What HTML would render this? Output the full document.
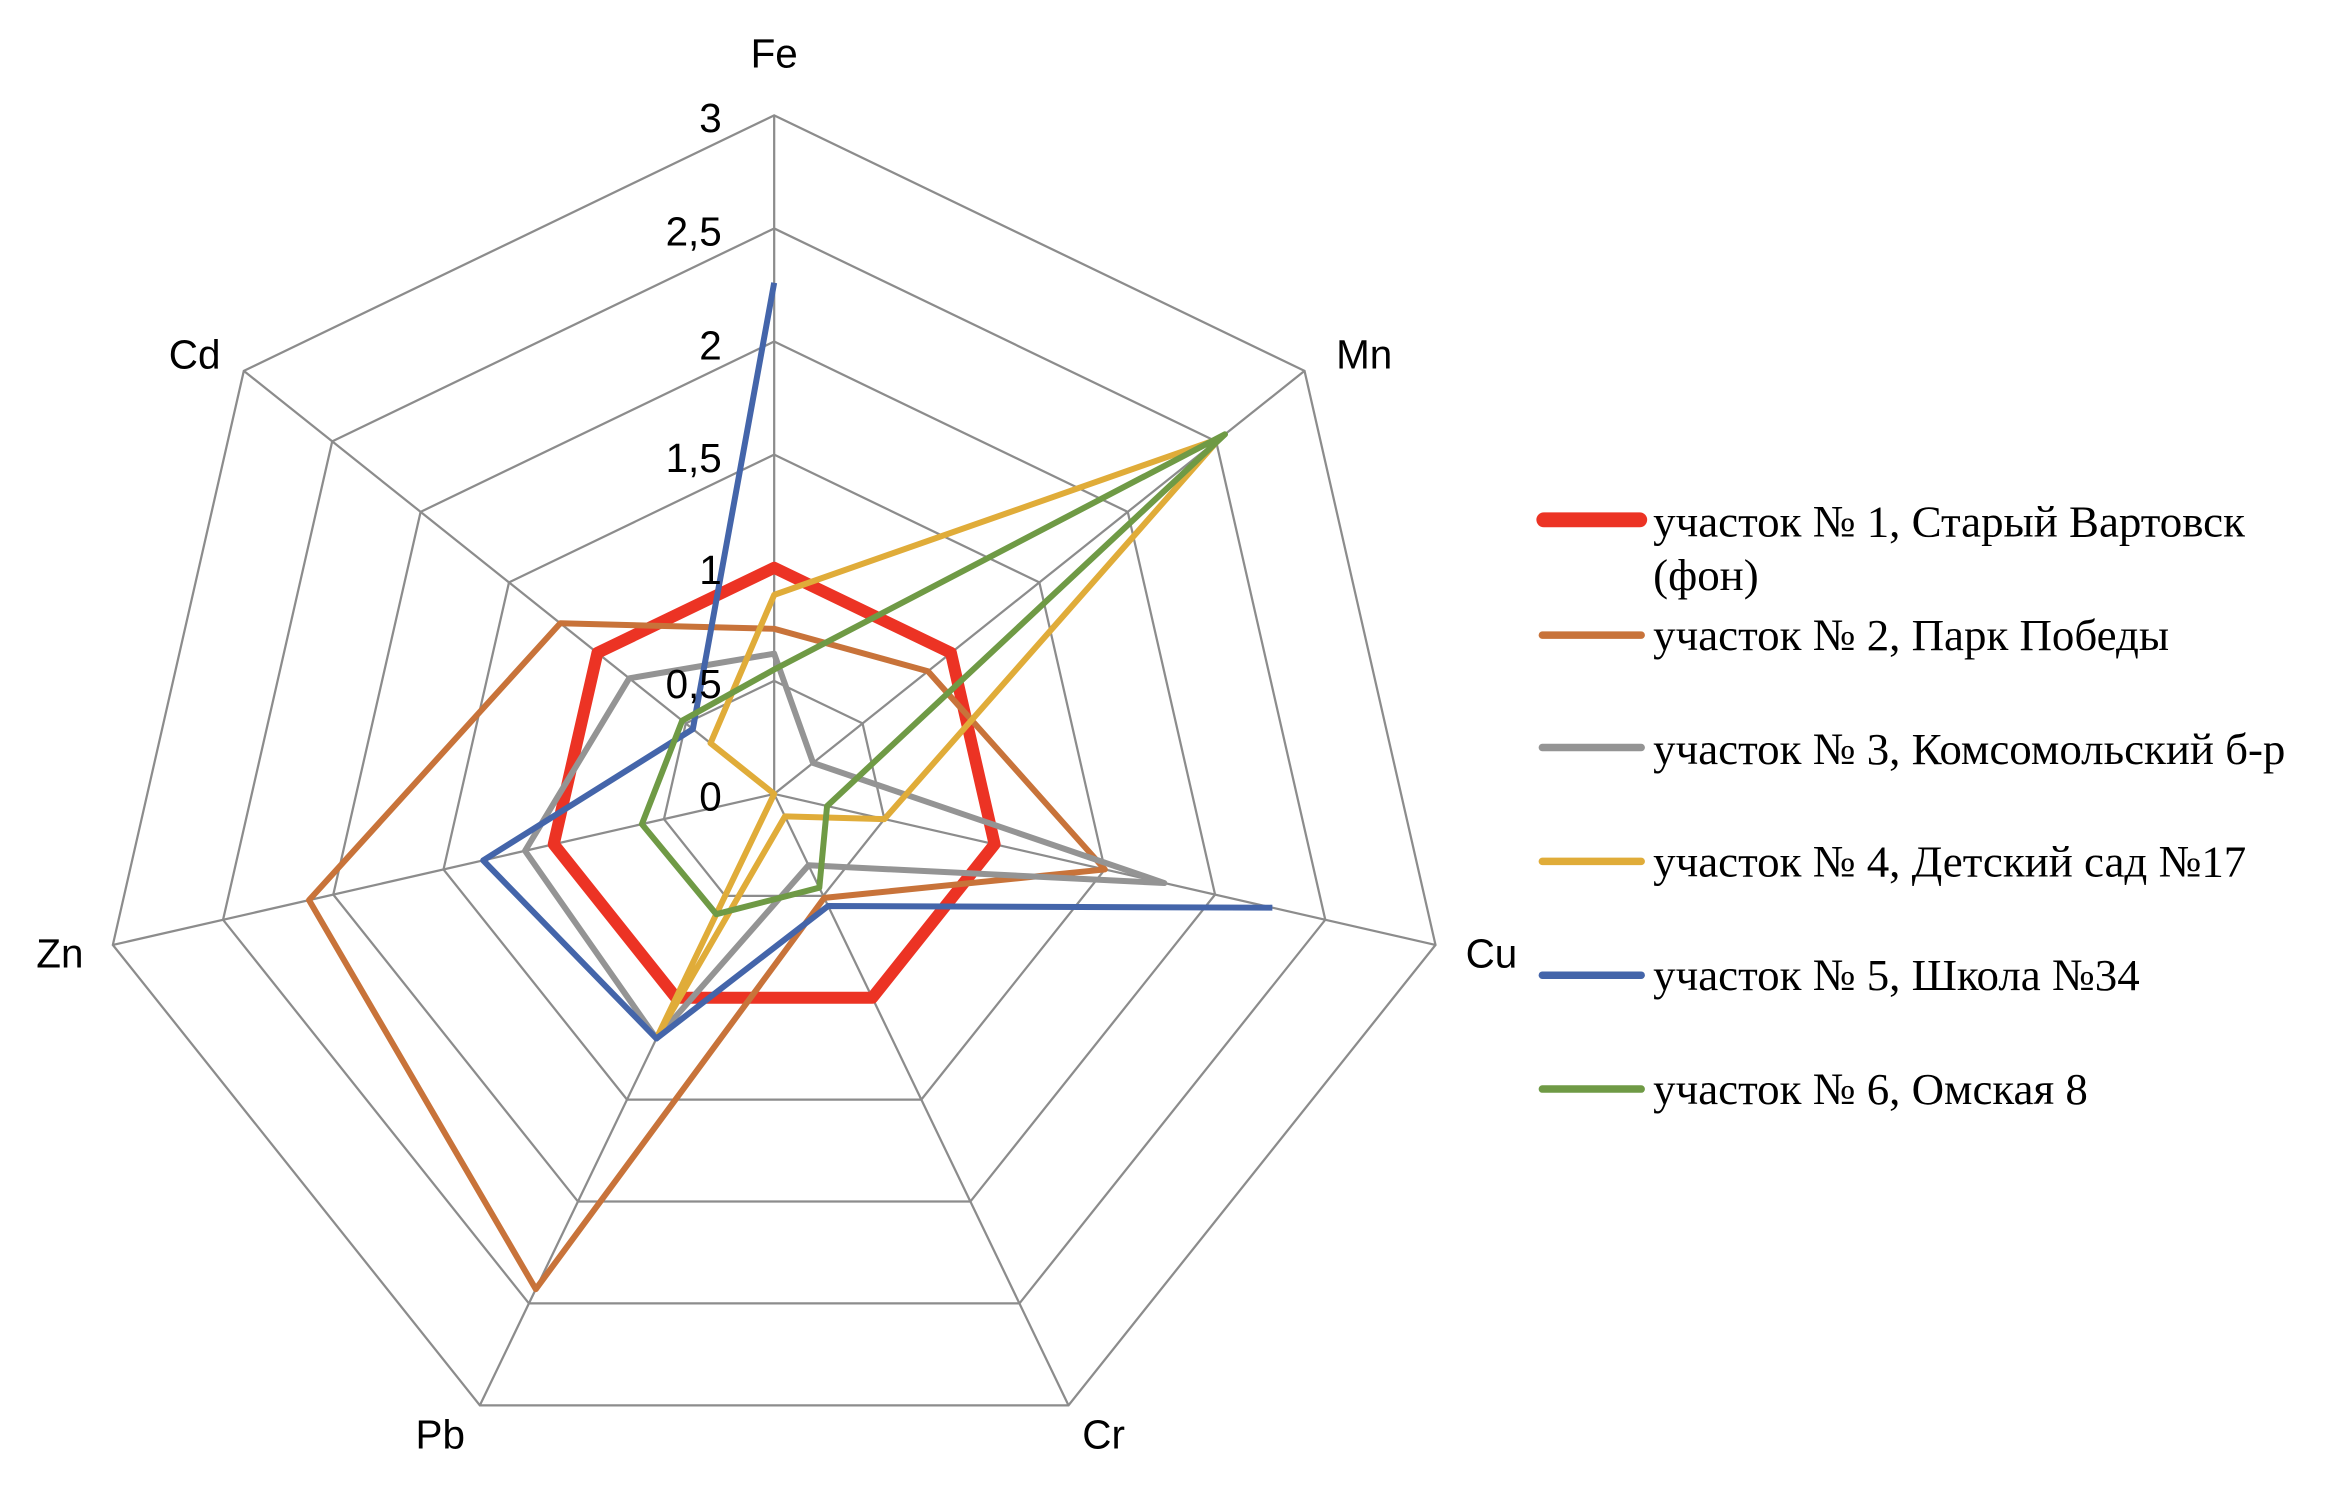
<!DOCTYPE html>
<html><head><meta charset="utf-8">
<style>
html,body{margin:0;padding:0;background:#fff;}
svg{display:block;}
.ax{font-family:"Liberation Sans",sans-serif;font-size:27px;fill:#000;}
.lg{font-family:"Liberation Serif",serif;font-size:30px;fill:#000;}
</style></head>
<body>
<svg id="s" width="2336" height="1492" viewBox="0 0 1560 996" preserveAspectRatio="none" xmlns="http://www.w3.org/2000/svg">
<g id="grid" fill="none" stroke="#8c8c8c" stroke-width="1.5"></g>
<g id="series" fill="none" stroke-linejoin="round"></g>
<g class="ax">
<text x="517" y="45" text-anchor="middle">Fe</text>
<text x="911" y="246" text-anchor="middle">Mn</text>
<text x="996" y="646" text-anchor="middle">Cu</text>
<text x="737" y="967" text-anchor="middle">Cr</text>
<text x="294" y="967" text-anchor="middle">Pb</text>
<text x="40" y="646" text-anchor="middle">Zn</text>
<text x="130" y="246" text-anchor="middle">Cd</text>
<g text-anchor="end">
<text x="482" y="88">3</text>
<text x="482" y="164">2,5</text>
<text x="482" y="240">2</text>
<text x="482" y="315">1,5</text>
<text x="482" y="390">1</text>
<text x="482" y="466">0,5</text>
<text x="482" y="541">0</text>
</g>
</g>
<g stroke-linecap="round">
<line x1="1031" y1="347" x2="1095" y2="347" stroke="#ec3324" stroke-width="10"/>
<line x1="1030" y1="424" x2="1096" y2="424" stroke="#c8733a" stroke-width="5"/>
<line x1="1030" y1="499" x2="1096" y2="499" stroke="#949494" stroke-width="5"/>
<line x1="1030" y1="575" x2="1096" y2="575" stroke="#e0ac39" stroke-width="5"/>
<line x1="1030" y1="651" x2="1096" y2="651" stroke="#4465aa" stroke-width="5"/>
<line x1="1030" y1="727" x2="1096" y2="727" stroke="#6f9a45" stroke-width="5"/>
</g>
<g class="lg">
<text x="1104" y="358">участок № 1, Старый Вартовск</text>
<text x="1104" y="394">(фон)</text>
<text x="1104" y="434">участок № 2, Парк Победы</text>
<text x="1104" y="510">участок № 3, Комсомольский б-р</text>
<text x="1104" y="585">участок № 4, Детский сад №17</text>
<text x="1104" y="661">участок № 5, Школа №34</text>
<text x="1104" y="737">участок № 6, Омская 8</text>
</g>
</svg>
<script>
(function(){
var cx=517,cy=530,u=151,ns="http://www.w3.org/2000/svg";
function pt(i,v){var a=i*2*Math.PI/7;return [cx+Math.sin(a)*v*u,cy-Math.cos(a)*v*u];}
var g=document.getElementById('grid');
for(var k=1;k<=6;k++){var p=[];for(var i=0;i<7;i++)p.push(pt(i,k*0.5).join(','));
var e=document.createElementNS(ns,'polygon');e.setAttribute('points',p.join(' '));g.appendChild(e);}
for(var i=0;i<7;i++){var q=pt(i,3);var l=document.createElementNS(ns,'line');
l.setAttribute('x1',cx);l.setAttribute('y1',cy);l.setAttribute('x2',q[0]);l.setAttribute('y2',q[1]);g.appendChild(l);}
var S=[
[[1,1,1,1,1,1,1],'#ec3324',8],
[[0.73,0.87,1.5,0.51,2.43,2.11,1.21],'#c8733a',4],
[[0.62,0.22,1.77,0.35,1.2,1.13,0.82],'#949494',4],
[[0.88,2.52,0.5,0.11,1.18,0.0,0.36],'#e0ac39',4],
[[2.26,null,2.26,0.55,1.2,1.32,0.46],'#4465aa',4],
[[0.55,2.55,0.24,0.46,0.59,0.6,0.52],'#6f9a45',4]];
var sg=document.getElementById('series');
S.forEach(function(s){
var e;
if(s[0].indexOf(null)<0){var p=[];for(var i=0;i<7;i++)p.push(pt(i,s[0][i]).join(','));
e=document.createElementNS(ns,'polygon');e.setAttribute('points',p.join(' '));}
else{var n=s[0].indexOf(null),p=[];for(var j=1;j<7;j++){var i=(n+j)%7;p.push(pt(i,s[0][i]).join(','));}
e=document.createElementNS(ns,'polyline');e.setAttribute('points',p.join(' '));}
e.setAttribute('stroke',s[1]);e.setAttribute('stroke-width',s[2]);sg.appendChild(e);});
})();
</script>
</body></html>
